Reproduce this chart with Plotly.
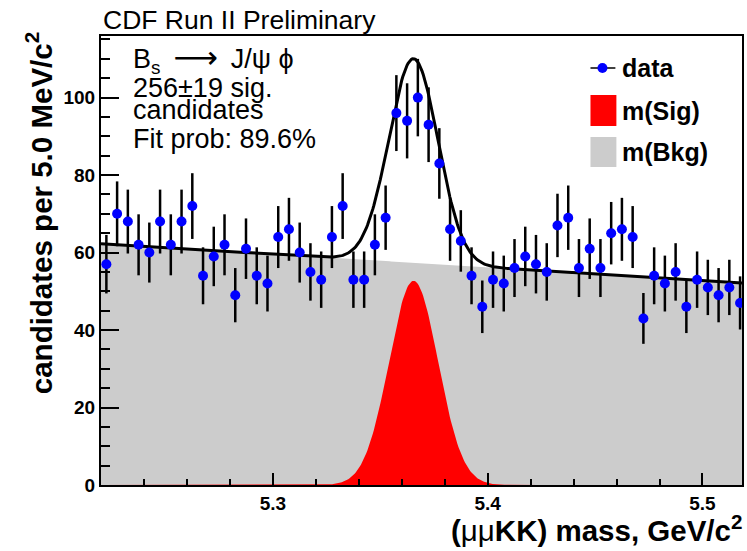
import numpy as np
import plotly.graph_objects as go

# ---------------- data ----------------
bin_width = 0.005
x_low = 5.22
counts = [57, 70, 68, 62, 60, 68, 62, 68, 72, 54,
          59, 62, 49, 61, 54, 52, 64, 66, 60, 55,
          53, 64, 72, 53, 53, 62, 69, 96, 94, 100,
          93, 83, 66, 63, 54, 46, 53, 52, 56, 59,
          57, 55, 67, 69, 56, 61, 56, 65, 66, 64,
          43, 54, 52, 55, 46, 53, 51, 49, 51, 47]
bin_centers = [round(x_low + bin_width * (i + 0.5), 4) for i in range(len(counts))]
errors = np.sqrt(np.array(counts, dtype=float))  # Poisson errors

# fit parameters
bkg_at_low = 62.3      # background level at 5.22
bkg_slope = -34.0      # per GeV/c^2
sig_amp = 52.7
sig_mean = 5.3655
sig_sigma = 0.0114

x_range = [5.22, 5.5184]
y_range = [0, 115.9]
x_tick_labels = ["5.3", "5.4", "5.5"]
y_tick_labels = ["0", "20", "40", "60", "80", "100"]

m = np.linspace(x_range[0], x_range[1], 600)
bkg = bkg_at_low + bkg_slope * (m - x_low)
sig = sig_amp * np.exp(-0.5 * ((m - sig_mean) / sig_sigma) ** 2)
total = bkg + sig

# ---------------- layout helpers ----------------
W, H = 747, 551
L, R, T, B = 101, 744, 36, 485


def px(x):
    return (x - L) / (R - L)


def py(y):
    return (B - y) / (B - T)


FONT = "Liberation Sans, Arial, sans-serif"

fig = go.Figure()
fig.add_trace(go.Scatter(x=m, y=bkg, mode="lines", line=dict(width=0, color="#cccccc"),
                         fill="tozeroy", fillcolor="#cccccc", hoverinfo="skip", showlegend=False))
fig.add_trace(go.Scatter(x=m, y=sig, mode="lines", line=dict(width=0, color="#ff0000"),
                         fill="tozeroy", fillcolor="#ff0000", hoverinfo="skip", showlegend=False))
fig.add_trace(go.Scatter(x=m, y=total, mode="lines", line=dict(width=3, color="black"),
                         hoverinfo="skip", showlegend=False))
fig.add_trace(go.Scatter(x=bin_centers, y=counts, mode="markers",
                         marker=dict(color="#0000ff", size=10, line=dict(width=0)),
                         error_y=dict(type="data", array=errors, visible=True,
                                      color="black", thickness=2.5, width=0),
                         showlegend=False))

fig.update_xaxes(range=x_range, showgrid=False, zeroline=False,
                 showline=True, linewidth=2, linecolor="black", mirror=True,
                 ticks="inside", ticklen=12, tickwidth=2, tickcolor="black",
                 tickmode="array", tickvals=[float(v) for v in x_tick_labels], ticktext=x_tick_labels,
                 tickfont=dict(family=FONT, size=19, color="black", weight="bold"),
                 minor=dict(ticks="inside", ticklen=6, tickwidth=1.5, tickcolor="black",
                            dtick=0.02, tick0=5.2))
fig.update_yaxes(range=y_range, showgrid=False, zeroline=False,
                 showline=True, linewidth=2, linecolor="black", mirror=True,
                 ticks="inside", ticklen=18, tickwidth=2, tickcolor="black",
                 tickmode="array", tickvals=[float(v) for v in y_tick_labels], ticktext=y_tick_labels,
                 tickfont=dict(family=FONT, size=19, color="black", weight="bold"),
                 minor=dict(ticks="inside", ticklen=9, tickwidth=1.5, tickcolor="black",
                            dtick=5, tick0=0))

ann = []
# header
ann.append(dict(text="CDF Run II Preliminary", x=px(101), y=py(20), xanchor="left", yanchor="middle",
                font=dict(family=FONT, size=26.5, color="black")))
# info text
info_font = dict(family=FONT, size=27, color="black")
ann.append(dict(text="B<sub>s</sub>\u2009 <span style=\"font-family:'DejaVu Sans';font-size:31px\">⟶</span>\u2009 J/ψ ϕ",
                x=px(131), y=py(59), xanchor="left", yanchor="middle", font=info_font))
ann.append(dict(text="256±19 sig.", x=px(131), y=py(88), xanchor="left", yanchor="middle", font=info_font))
ann.append(dict(text="candidates", x=px(131), y=py(110), xanchor="left", yanchor="middle", font=info_font))
ann.append(dict(text="Fit prob: 89.6%", x=px(131), y=py(139), xanchor="left", yanchor="middle", font=info_font))
# legend
leg_font = dict(family=FONT, size=25, color="black", weight="bold")
ann.append(dict(text="data", x=px(622), y=py(68), xanchor="left", yanchor="middle", font=leg_font))
ann.append(dict(text="m(Sig)", x=px(622), y=py(111), xanchor="left", yanchor="middle", font=leg_font))
ann.append(dict(text="m(Bkg)", x=px(622), y=py(152), xanchor="left", yanchor="middle", font=leg_font))
# axis titles
ann.append(dict(text="<b>(</b>μμ<b>KK) mass, GeV/c<sup>2</sup></b>", x=px(746), y=py(528),
                xanchor="right", yanchor="middle",
                font=dict(family=FONT, size=29.5, color="black")))
ann.append(dict(text="<b>candidates per 5.0 MeV/c<sup>2</sup></b>", x=px(38), y=py(30),
                xanchor="center", yanchor="top", textangle=-90,
                font=dict(family=FONT, size=29.5, color="black")))
for a in ann:
    a.update(xref="paper", yref="paper", showarrow=False)

shapes = [
    dict(type="line", x0=px(592), x1=px(617), y0=py(68), y1=py(68), line=dict(color="black", width=1.5)),
    dict(type="circle", x0=px(599), x1=px(609), y0=py(63), y1=py(73), fillcolor="#0000ff", line=dict(width=0)),
    dict(type="rect", x0=px(592), x1=px(618), y0=py(95), y1=py(126), fillcolor="#ff0000", line=dict(width=0)),
    dict(type="rect", x0=px(592), x1=px(618), y0=py(137), y1=py(167), fillcolor="#cccccc", line=dict(width=0)),
]
for s in shapes:
    s.update(xref="paper", yref="paper")

fig.update_layout(width=W, height=H, margin=dict(l=L, r=W - R, t=T, b=H - B, pad=0),
                  paper_bgcolor="white", plot_bgcolor="white",
                  annotations=ann, shapes=shapes, showlegend=False)

fig.write_html("out.html")
